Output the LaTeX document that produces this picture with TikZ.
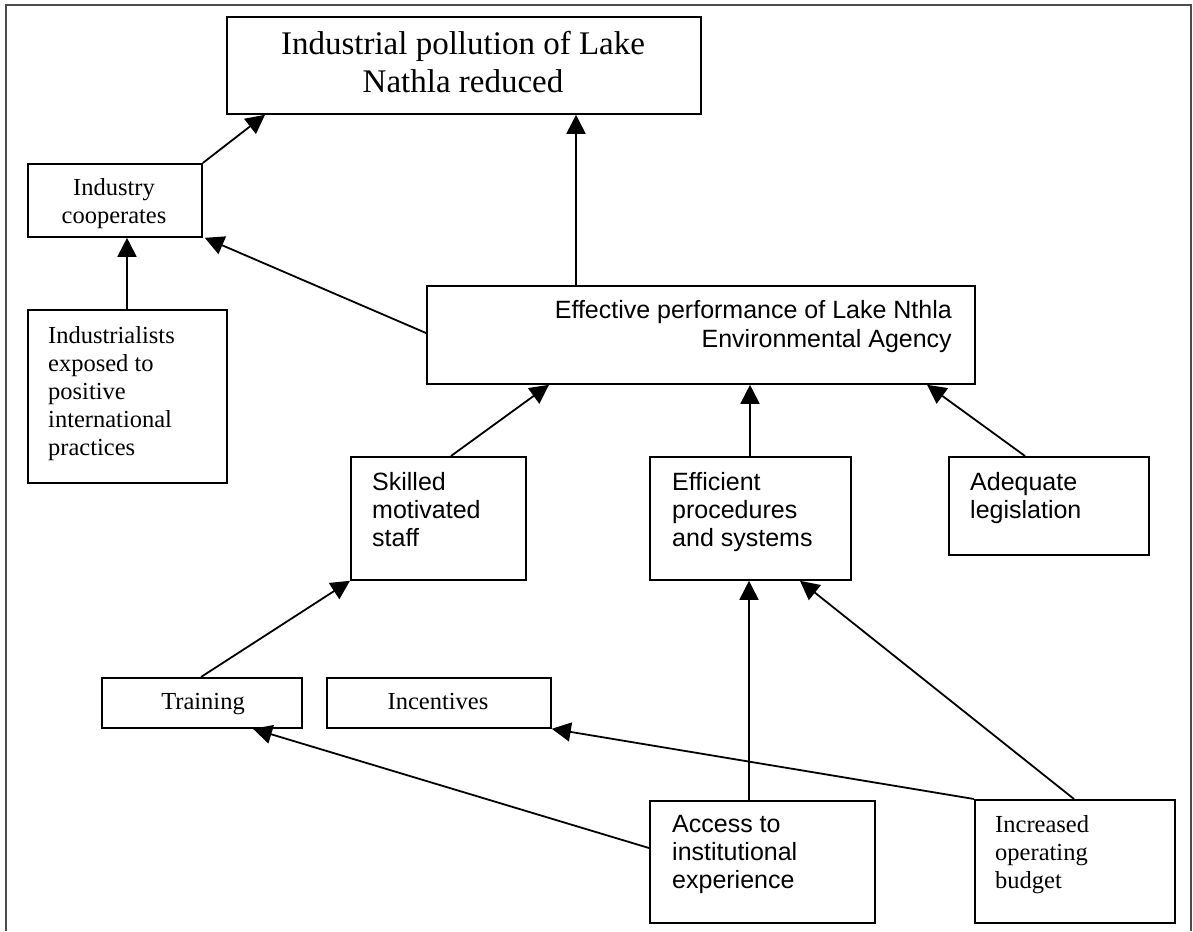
\documentclass[tikz,border=0pt]{standalone}
\usepackage{fontspec}
\setmainfont{Liberation Serif}
\newfontfamily\sansf{Liberation Sans}
\usetikzlibrary{arrows.meta,calc}
\begin{document}
\begin{tikzpicture}[x=1pt,y=-1pt,
  box/.style={draw,line width=1.8pt,inner sep=0pt,anchor=north west},
  arr/.style={line width=1.8pt,-{Triangle[length=19pt,width=19pt]}},
  frame/.style={line width=1.5pt,draw=black!70},
  txt/.style={inner sep=0pt},
  serifs/.style={font=\fontsize{24.5}{28}\selectfont},
  sanss/.style={font=\sansf\fontsize{25}{28}\selectfont},
]
\useasboundingbox (0,0) rectangle (1193,931);
\draw[frame] (6,931) -- (6,5) -- (1191,5) -- (1191,931);

% boxes
\node[box, minimum width=474pt, minimum height=97pt] (top) at (226,16) {};
\node[box, minimum width=174pt, minimum height=73pt] (ind) at (27,163) {};
\node[box, minimum width=199pt, minimum height=173pt] (indl) at (27,309) {};
\node[box, minimum width=548pt, minimum height=98pt] (eff) at (426,285) {};
\node[box, minimum width=175pt, minimum height=123pt] (skill) at (350,456) {};
\node[box, minimum width=201pt, minimum height=123pt] (effic) at (649,456) {};
\node[box, minimum width=200pt, minimum height=98pt] (adeq) at (948,456) {};
\node[box, minimum width=200pt, minimum height=50pt] (train) at (101,677) {};
\node[box, minimum width=224pt, minimum height=50pt] (incent) at (326,677) {};
\node[box, minimum width=225pt, minimum height=122pt] (access) at (649,800) {};
\node[box, minimum width=200pt, minimum height=123pt] (budget) at (974,799) {};

% texts
\node[txt, anchor=base, font=\fontsize{33}{38}\selectfont] (tTop) at (463,55)
  {\parbox[t]{460pt}{\centering Industrial pollution of Lake\\Nathla reduced}};
\node[txt, anchor=base, serifs] (tInd) at (114,195)
  {\parbox[t]{170pt}{\centering Industry\\cooperates}};
\node[txt, anchor=base west, serifs] (tIndl) at (48,343)
  {\parbox[t]{175pt}{\raggedright Industrialists\\exposed to\\positive\\international\\practices}};
\node[txt, anchor=base east, font=\sansf\fontsize{25}{29}\selectfont] (tEff) at (952,318)
  {\parbox[t]{520pt}{\raggedleft Effective performance of Lake Nthla\\Environmental Agency}};
\node[txt, anchor=base west, sanss] (tSkill) at (372,490)
  {\parbox[t]{150pt}{\raggedright Skilled\\motivated\\staff}};
\node[txt, anchor=base west, sanss] (tEffic) at (672,490)
  {\parbox[t]{175pt}{\raggedright Efficient\\procedures\\and systems}};
\node[txt, anchor=base west, sanss] (tAdeq) at (970,490)
  {\parbox[t]{175pt}{\raggedright Adequate\\legislation}};
\node[txt, anchor=base, serifs] (tTrain) at (203,709) {Training};
\node[txt, anchor=base, serifs] (tIncent) at (438,709) {Incentives};
\node[txt, anchor=base west, sanss] (tAccess) at (672,832)
  {\parbox[t]{195pt}{\raggedright Access to\\institutional\\experience}};
\node[txt, anchor=base west, serifs] (tBudget) at (995,832)
  {\parbox[t]{175pt}{\raggedright Increased\\operating\\budget}};

% connectors
\draw[arr] (ind.north east) -- ($(top.south west)+(39,0)$);
\draw[arr] ($(eff.north west)+(150,0)$) -- ($(top.south west)+(350,0)$);
\draw[arr] ($(indl.north west)+(100,0)$) -- ($(ind.south west)+(100,0)$);
\draw[arr] ($(eff.north west)+(0,48)$) -- ($(ind.south east)+(2,0)$);
\draw[arr] ($(skill.north west)+(101,0)$) -- ($(eff.south west)+(123,0)$);
\draw[arr] ($(effic.north west)+(101,0)$) -- ($(eff.south west)+(324,0)$);
\draw[arr] ($(adeq.north west)+(77,0)$) -- ($(eff.south west)+(501,0)$);
\draw[arr] ($(train.north west)+(100,0)$) -- (skill.south west);
\draw[arr] ($(access.north west)+(100,0)$) -- ($(effic.south west)+(100,0)$);
\draw[arr] ($(budget.north west)+(100,0)$) -- ($(effic.south west)+(151,0)$);
\draw[arr] ($(access.north west)+(0,48)$) -- ($(train.south west)+(152,0)$);
\draw[arr] (budget.north west) -- (incent.south east);
\end{tikzpicture}
\end{document}
